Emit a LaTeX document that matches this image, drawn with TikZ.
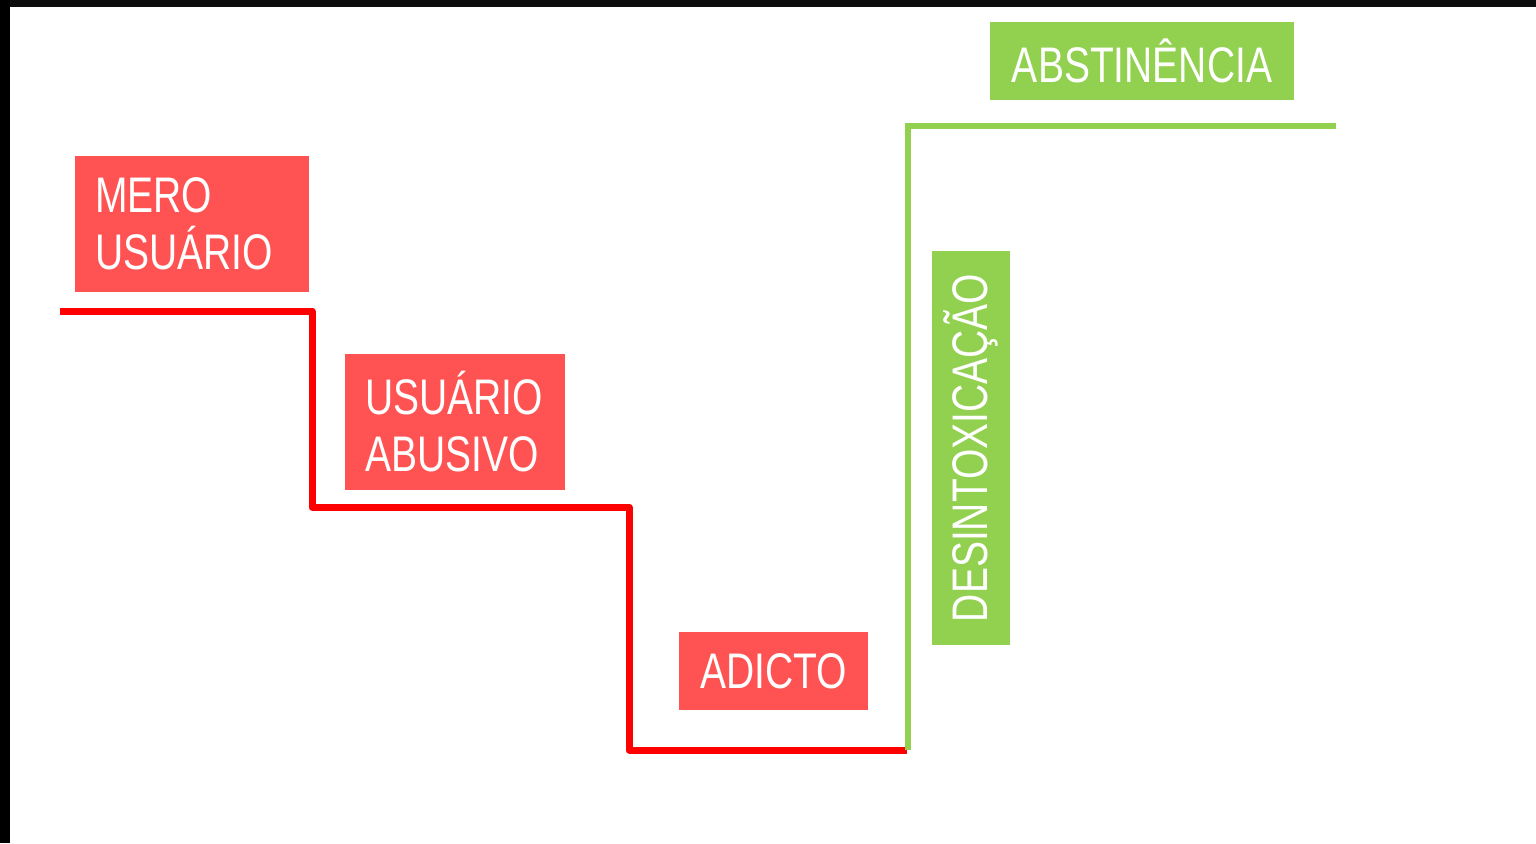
\documentclass[tikz,border=0pt]{standalone}
\usepackage{fontspec}
\newfontfamily\narrowfont[FakeStretch=0.78]{Liberation Sans}
\definecolor{boxred}{HTML}{FF5353}
\definecolor{linered}{HTML}{FF0000}
\definecolor{boxgreen}{HTML}{92D050}
\begin{document}
\begin{tikzpicture}[x=1pt,y=-1pt,
  lbl/.style={fill=#1, text=white, inner sep=0pt, font=\narrowfont\fontsize{50}{57}\selectfont},
  redline/.style={draw=linered, line width=7pt, line join=round, line cap=butt},
  greenline/.style={draw=boxgreen, line width=6pt, line join=miter, line cap=butt}]
\useasboundingbox (0,0) rectangle (1536,843);
\fill[white] (0,0) rectangle (1536,843);
\fill[black!95] (0,0) rectangle (1536,7);
\fill[black] (0,0) rectangle (10,843);

\node[lbl=boxred, minimum width=234pt, minimum height=136pt, text width=194pt, align=left] (mero) at (192,224) {MERO\\USUÁRIO};
\node[lbl=boxred, minimum width=220pt, minimum height=136pt, text width=180pt, align=left] (abusivo) at (455,422) {USUÁRIO\\ABUSIVO};
\node[lbl=boxred, minimum width=189pt, minimum height=78pt] (adicto) at (773.5,671) {ADICTO};
\node[lbl=boxgreen, minimum width=304pt, minimum height=78pt] (abst) at (1142,61) {ABSTINÊNCIA};
\node[lbl=boxgreen, minimum width=394pt, minimum height=78pt, rotate=90] (desint) at (971,448) {DESINTOXICAÇÃO};

\coordinate (r0) at (60,311);
\coordinate (r1) at (312,311);
\coordinate (r2) at (312,507);
\coordinate (r3) at (629,507);
\coordinate (r4) at (629,750);
\coordinate (r5) at (907,750);
\draw[redline] (r0) -- (r1) -- (r2) -- (r3) -- (r4) -- (r5);

\coordinate (g0) at (908,750);
\coordinate (g1) at (908,126);
\coordinate (g2) at (1336,126);
\draw[greenline] (g0) -- (g1) -- (g2);
\end{tikzpicture}
\end{document}
